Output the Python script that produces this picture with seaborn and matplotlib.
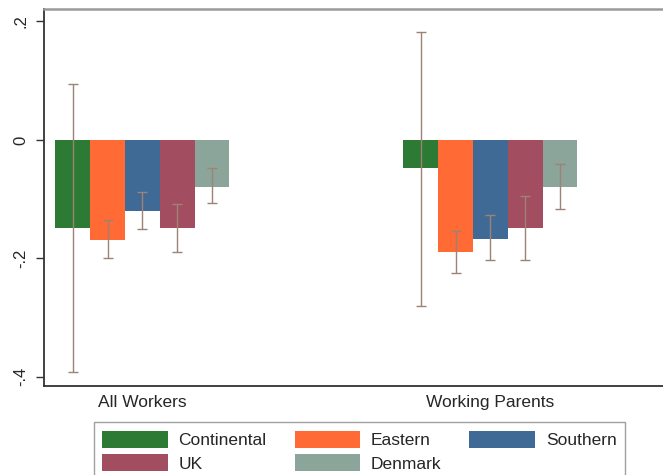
import seaborn as sns
import matplotlib.pyplot as plt
import pandas as pd

# values
groups = ["All Workers", "Working Parents"]
regions = ["Continental", "Eastern", "Southern", "UK", "Denmark"]
colors = ["#2c7a33", "#ff6a35", "#3f6a95", "#a34e60", "#8ba59b"]

all_workers = [-0.149, -0.169, -0.120, -0.149, -0.079]
all_workers_lo = [-0.392, -0.200, -0.151, -0.189, -0.107]
all_workers_hi = [0.095, -0.135, -0.088, -0.108, -0.048]

parents = [-0.048, -0.189, -0.168, -0.149, -0.079]
parents_lo = [-0.280, -0.224, -0.203, -0.203, -0.117]
parents_hi = [0.182, -0.154, -0.127, -0.094, -0.041]

rows = []
for g, vals, lo, hi in [(groups[0], all_workers, all_workers_lo, all_workers_hi),
                        (groups[1], parents, parents_lo, parents_hi)]:
    for r, v, l, h in zip(regions, vals, lo, hi):
        rows.append({"group": g, "region": r, "value": v, "lo": l, "hi": h})
df = pd.DataFrame(rows)

sns.set_style("white")
plt.rcParams['font.family'] = ['Liberation Sans', 'DejaVu Sans']

fig = plt.figure(figsize=(6.63, 4.75), dpi=100)
# plot region runs past the right edge, like the cropped original
ax = fig.add_axes([44/663, 89/475, 659/663, 377/475])

sns.barplot(data=df, x="group", y="value", hue="region", order=groups,
            hue_order=regions, palette=colors, saturation=1, width=0.5,
            errorbar=None, ax=ax, linewidth=0)

# confidence intervals on each bar
for cont, reg in zip(ax.containers, regions):
    sub = df[df.region == reg].set_index("group").loc[groups]
    xs = [b.get_x() + b.get_width() / 2 for b in cont]
    ax.errorbar(xs, sub["value"], yerr=[sub["value"] - sub["lo"], sub["hi"] - sub["value"]],
                fmt="none", ecolor="#9c8376", elinewidth=1.0, capsize=3.5, capthick=1.0)

ax.set_xlim(-0.283, 1.611)
ax.set_ylim(-0.4155, 0.221)
ax.set_yticks([-0.4, -0.2, 0, 0.2])
ax.set_yticklabels(["-.4", "-.2", "0", ".2"], rotation=90, va="center", fontsize=12)
ax.tick_params(axis="y", left=True, length=6, width=1, color="#333333", pad=5)
ax.tick_params(axis="x", bottom=False, labelsize=12.5, pad=3)
ax.set_xlabel("")
ax.set_ylabel("")

for side in ["left", "bottom"]:
    ax.spines[side].set_color("#333333")
    ax.spines[side].set_linewidth(1.3)
ax.spines["top"].set_color("#9a9a9a")
ax.spines["top"].set_linewidth(1.8)
ax.spines["right"].set_visible(False)

handles, labels = ax.get_legend_handles_labels()
ax.get_legend().remove()
# matplotlib fills legend columns first; reorder so it reads row by row
order = [0, 3, 1, 4, 2]
fig.legend([handles[i] for i in order], [labels[i] for i in order],
           loc="upper center", bbox_to_anchor=(0.542, 53/475),
           ncol=3, fontsize=12.5, frameon=True, fancybox=False, edgecolor="#888888",
           handlelength=3.8, handleheight=1.15, handletextpad=0.6,
           columnspacing=1.6, labelspacing=0.35, borderpad=0.5, borderaxespad=0)

fig.savefig("out.png", dpi=100)
